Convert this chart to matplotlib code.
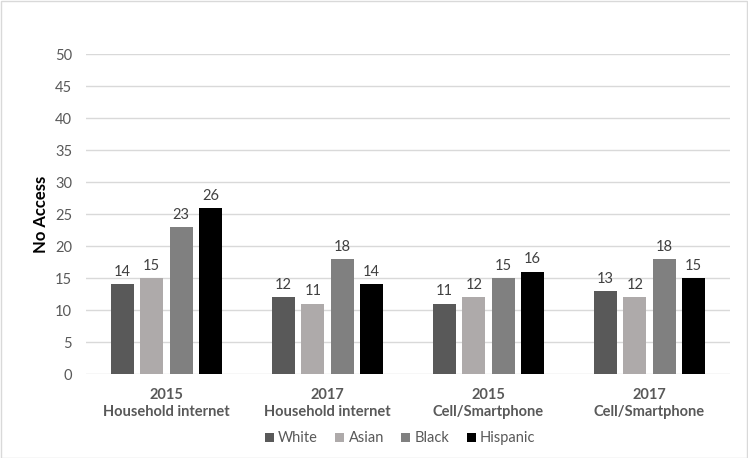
import numpy as np
import matplotlib.pyplot as plt
from matplotlib.patches import Rectangle

plt.rcParams['font.family'] = ['Lato', 'DejaVu Sans']

categories = ['2015\nHousehold internet', '2017\nHousehold internet',
              '2015\nCell/Smartphone', '2017\nCell/Smartphone']
groups = ['White', 'Asian', 'Black', 'Hispanic']
white = [14, 12, 11, 13]
asian = [15, 11, 12, 12]
black = [23, 18, 15, 18]
hispanic = [26, 14, 16, 15]
colors = ['#595959', '#AEAAAA', '#808080', '#000000']

fig = plt.figure(figsize=(7.48, 4.58), dpi=100)
ax = fig.add_axes([0.115, 0.1834, 0.861, 0.6986])

x = np.arange(len(categories))
step = 0.183
width = 0.143
for i, (name, vals) in enumerate(zip(groups, [white, asian, black, hispanic])):
    pos = x + (i - 1.5) * step
    bars = ax.bar(pos, vals, width, color=colors[i], label=name, zorder=3)
    for b, v in zip(bars, vals):
        ax.text(b.get_x() + b.get_width() / 2, v + 0.8, str(v), ha='center', va='bottom',
                fontsize=10.5, color='#404040')

ax.set_ylim(0, 50)
ax.set_xlim(-0.5, 3.5)
ax.set_yticks(range(0, 51, 5))
ax.yaxis.grid(True, color='#D9D9D9', linewidth=1, zorder=0)
ax.set_xticks(x)
ax.set_xticklabels(categories, fontsize=10.5, fontweight='bold', color='#595959', linespacing=1.3)
ax.tick_params(axis='both', length=0, labelsize=10.5, colors='#595959')
ax.tick_params(axis='x', pad=10)
ax.tick_params(axis='y', pad=10)
for s in ax.spines.values():
    s.set_visible(False)
ax.set_ylabel('No Access', fontsize=12, fontweight='bold', color='black', labelpad=4)

fig.legend(loc='center', bbox_to_anchor=(0.535, 0.043), ncol=4, frameon=False,
           fontsize=10.5, handlelength=0.6, handleheight=0.6, handletextpad=0.3,
           columnspacing=1.2, labelcolor='#595959')

fig.patches.append(Rectangle((0.001, 0.001), 0.997, 0.997, transform=fig.transFigure,
                             fill=False, edgecolor='#D9D9D9', linewidth=1))

fig.savefig('out.png', dpi=100)
